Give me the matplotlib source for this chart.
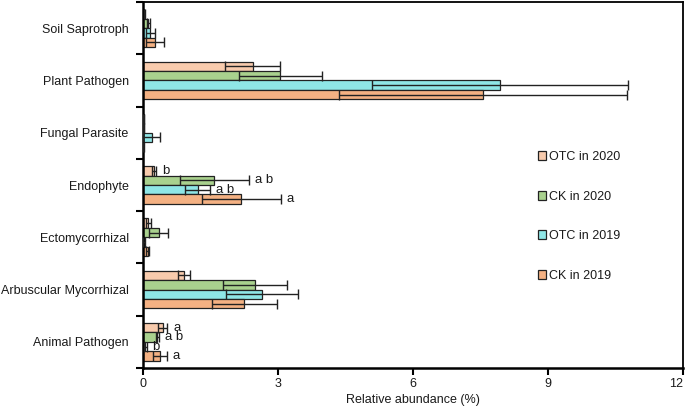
import numpy as np
import matplotlib
matplotlib.use('Agg')
import matplotlib.pyplot as plt
from matplotlib.patches import Patch

plt.rcParams['font.family'] = ['Liberation Sans', 'DejaVu Sans']

# categories bottom -> top
categories = ['Animal Pathogen', 'Arbuscular Mycorrhizal', 'Ectomycorrhizal',
              'Endophyte', 'Fungal Parasite', 'Plant Pathogen', 'Soil Saprotroph']

otc_2020 = [0.45, 0.92, 0.13, 0.25, 0.02, 2.44, 0.04]
otc_2020_err = [0.10, 0.13, 0.05, 0.05, 0.01, 0.60, 0.02]
ck_2020 = [0.33, 2.50, 0.36, 1.59, 0.02, 3.06, 0.13]
ck_2020_err = [0.03, 0.71, 0.21, 0.77, 0.01, 0.93, 0.04]
otc_2019 = [0.06, 2.65, 0.03, 1.22, 0.20, 7.93, 0.17]
otc_2019_err = [0.03, 0.80, 0.03, 0.28, 0.19, 2.84, 0.10]
ck_2019 = [0.38, 2.26, 0.11, 2.19, 0.01, 7.56, 0.28]
ck_2019_err = [0.16, 0.73, 0.03, 0.88, 0.01, 3.20, 0.20]

# significance letters: (category, series, letter)
letters = [
    ('Endophyte', 'OTC in 2020', 'b'),
    ('Endophyte', 'CK in 2020', 'a b'),
    ('Endophyte', 'OTC in 2019', 'a b'),
    ('Endophyte', 'CK in 2019', 'a'),
    ('Animal Pathogen', 'OTC in 2020', 'a'),
    ('Animal Pathogen', 'CK in 2020', 'a b'),
    ('Animal Pathogen', 'OTC in 2019', 'b'),
    ('Animal Pathogen', 'CK in 2019', 'a'),
]

series = [
    ('OTC in 2020', otc_2020, otc_2020_err, '#F8CBAD', 1.5),
    ('CK in 2020', ck_2020, ck_2020_err, '#A9D18E', 0.5),
    ('OTC in 2019', otc_2019, otc_2019_err, '#8FE6E6', -0.5),
    ('CK in 2019', ck_2019, ck_2019_err, '#F4B183', -1.5),
]

txt = '#1a1a1a'
h = 0.18
y = np.arange(len(categories)) + 0.5

fig = plt.figure(figsize=(6.85, 4.13), dpi=100)
ax = fig.add_axes([0.2082, 0.109, 0.789, 0.886])

pos = {}
for name, vals, errs, col, off in series:
    yy = y + off * h
    ax.barh(yy, vals, height=h, color=col, edgecolor='#222222', linewidth=0.9, zorder=2)
    ax.errorbar(vals, yy, xerr=errs, fmt='none', ecolor='#222222', elinewidth=1,
                capsize=3.5, capthick=1, zorder=3)
    pos[name] = (yy, vals, errs)

for cat, name, lab in letters:
    i = categories.index(cat)
    yy, vals, errs = pos[name]
    ax.text(vals[i] + errs[i] + 0.13, yy[i], lab, fontsize=9.5, color=txt,
            ha='left', va='center')

ax.set_xlim(0, 12)
ax.set_ylim(0, len(categories))
ax.set_xticks([0, 3, 6, 9, 12])
ax.set_yticks(y)
ax.set_yticklabels(categories)
ax.set_yticks(np.arange(len(categories) + 1), minor=True)
ax.tick_params(axis='y', which='major', length=0, pad=10, labelsize=9, labelcolor=txt)
ax.tick_params(axis='y', which='minor', length=5, width=1.5, direction='out')
ax.tick_params(axis='x', length=5, width=1.5, direction='out', labelsize=9,
               labelcolor=txt, pad=2)
ax.get_xticklabels()[-1].set_horizontalalignment('right')
ax.set_xlabel('Relative abundance (%)', fontsize=9, color=txt, labelpad=3)

for s in ['left', 'bottom']:
    ax.spines[s].set_linewidth(1.8)
for s in ['top', 'right']:
    ax.spines[s].set_linewidth(1.3)

handles = [Patch(facecolor=col, edgecolor='#222222', linewidth=0.9, label=name)
           for name, _, _, col, _ in series]
ax.legend(handles=handles, loc='center left', bbox_to_anchor=(0.71, 0.414),
          frameon=False, fontsize=9, labelspacing=2.2, handlelength=0.7,
          handleheight=0.7, handletextpad=0.25, labelcolor=txt)

fig.savefig('out.png', dpi=100)
